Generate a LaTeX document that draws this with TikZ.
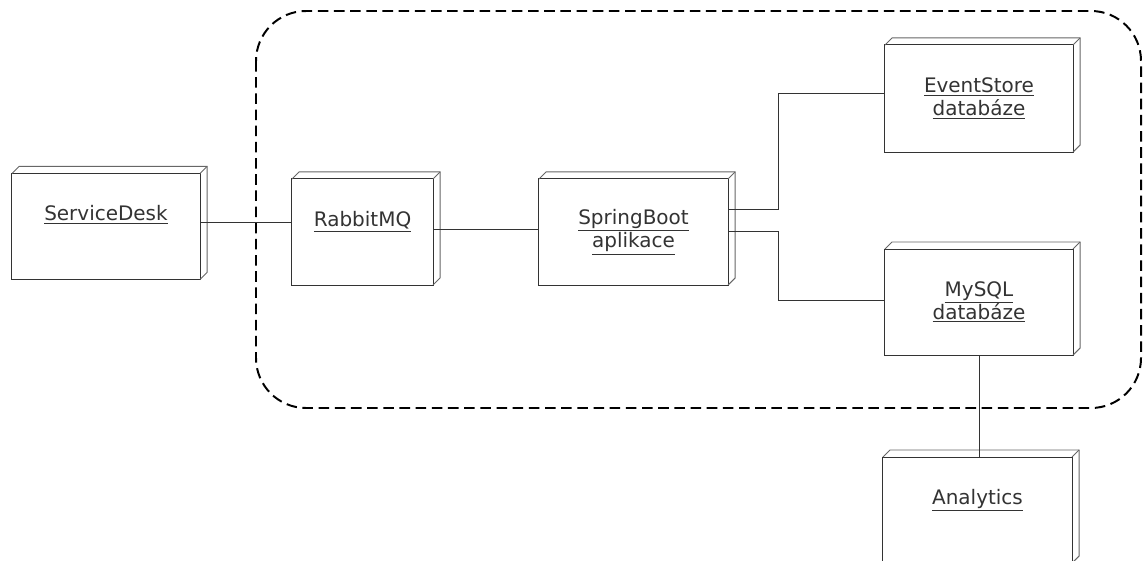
\documentclass[tikz,border=0pt]{standalone}
\usepackage{fontspec}
\newfontfamily\diafont{DejaVu Sans}
\tikzset{
  devbox/.style={draw=black!80, line width=0.7pt, fill=white, inner sep=0pt, outer sep=0pt,
    minimum width=4.7cm, minimum height=2.65cm, align=center, text=black!80,
    font=\diafont\fontsize{14.2}{16.5}\selectfont},
  oneline/.style={text height=10.5pt, text depth=18.5pt},
  depthline/.style={draw=black!60, line width=0.7pt},
  conn/.style={draw=black!80, line width=0.7pt},
  zone/.style={draw=black, line width=1.4pt, dash pattern=on 7.5pt off 4pt, rounded corners=1.25cm}
}
\begin{document}
\begin{tikzpicture}[x=0.025cm,y=-0.025cm]
\useasboundingbox (0,0) rectangle (1143,560);

% dashed deployment zone
\draw[zone] (256,11) rectangle (1141,408);

\node[devbox,oneline] (sd) at (106,226.5) {\underline{ServiceDesk}};
\node[devbox,oneline,minimum width=3.525cm] (rmq) at (362.5,232) {\underline{RabbitMQ}};
\node[devbox,minimum width=4.725cm] (spring) at (633.5,232) {\underline{SpringBoot}\\\underline{aplikace}};
\node[devbox,minimum height=2.675cm] (es) at (979,98.5) {\underline{EventStore}\\\underline{databáze}};
\node[devbox] (mysql) at (979,302) {\underline{MySQL}\\\underline{databáze}};
\node[devbox,oneline,minimum width=4.725cm] (ana) at (977.5,510) {\underline{Analytics}};

% 3D edges of the boxes
\foreach \n in {sd,rmq,spring,es,mysql,ana}{
  \path[depthline] (\n.north west) -- ++(7,-7) -- ([shift={(7,-7)}]\n.north east)
    -- ([shift={(7,-7)}]\n.south east) -- (\n.south east);
  \path[depthline] (\n.north east) -- ++(7,-7);
}

% connectors
\coordinate (sdport) at ([shift={(0,-4.5)}]sd.east);
\coordinate (rmqport) at ([shift={(0,-3)}]rmq.east);
\coordinate (springup) at ([shift={(0,-23)}]spring.east);
\coordinate (springdown) at ([shift={(0,-1)}]spring.east);
\path[conn] (sdport) -- (sdport -| rmq.west);
\path[conn] (rmqport) -- (rmqport -| spring.west);
\path[conn] (springup) -- ++(50,0) |- ([shift={(0,-5.5)}]es.west);
\path[conn] (springdown) -- ++(50,0) |- ([shift={(0,-2)}]mysql.west);
\path[conn] (mysql.south) -- (mysql.south |- ana.north);
\end{tikzpicture}
\end{document}
